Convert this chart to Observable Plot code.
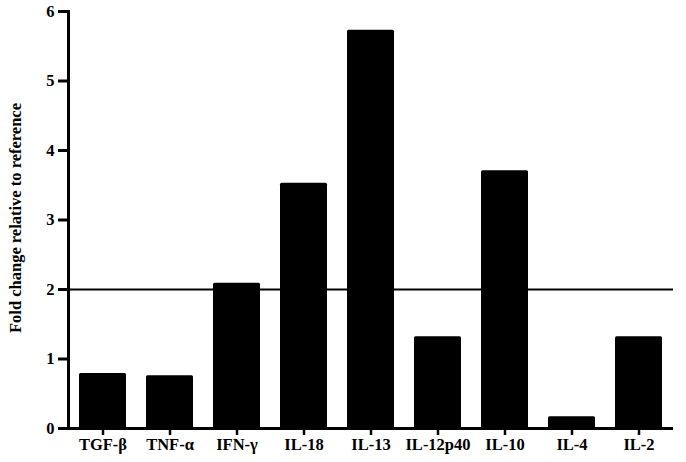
<!DOCTYPE html>
<html>
<head>
<meta charset="utf-8">
<script src="https://cdn.jsdelivr.net/npm/d3@7"></script>
<script src="https://cdn.jsdelivr.net/npm/@observablehq/plot@0.6"></script>
<style>
  html, body { margin: 0; padding: 0; background: #fff; }
</style>
</head>
<body>
<div id="chart"></div>
<script>
const cytokines = ["TGF-β", "TNF-α", "IFN-γ", "IL-18", "IL-13", "IL-12p40", "IL-10", "IL-4", "IL-2"];
const foldChange = [0.79, 0.76, 2.09, 3.53, 5.73, 1.32, 3.71, 0.17, 1.32];
const yTicks = [0, 1, 2, 3, 4, 5, 6];
const threshold = [2];

const data = cytokines.map((c, i) => ({cytokine: c, value: foldChange[i]}));
const font = "'Liberation Serif', 'Times New Roman', serif";

const chart = Plot.plot({
  width: 686,
  height: 462,
  marginLeft: 68,
  marginRight: 13,
  marginTop: 11,
  marginBottom: 34,
  style: {fontFamily: font, fontWeight: "bold", background: "#fff", color: "#000"},
  x: {domain: cytokines, paddingInner: 0.3, paddingOuter: 0.15, label: null},
  y: {domain: [0, 6], label: null},
  marks: [
    Plot.barY(data, {x: "cytokine", y: "value", fill: "#000", rx: 1.5}),
    Plot.ruleY(threshold, {stroke: "#000", strokeWidth: 2}),
    Plot.axisX({tickSize: 7, strokeWidth: 2.5, tickPadding: 3, fontSize: 16.5, fontWeight: "bold", fill: "#000"}),
    Plot.axisY({ticks: yTicks, tickFormat: "d", tickSize: 10, strokeWidth: 3, tickPadding: 4, fontSize: 16.5, fontWeight: "bold", fill: "#000", label: null}),
    Plot.frame({anchor: "left", strokeWidth: 3, stroke: "#000"}),
    Plot.ruleY([0], {stroke: "#000", strokeWidth: 3}),
    Plot.text(["Fold change relative to reference"], {
      frameAnchor: "left", dx: -53, dy: -2, rotate: -90, textAnchor: "middle", fontSize: 16.5, fontWeight: "bold", fill: "#000"
    })
  ]
});
document.getElementById("chart").appendChild(chart);
</script>
</body>
</html>
